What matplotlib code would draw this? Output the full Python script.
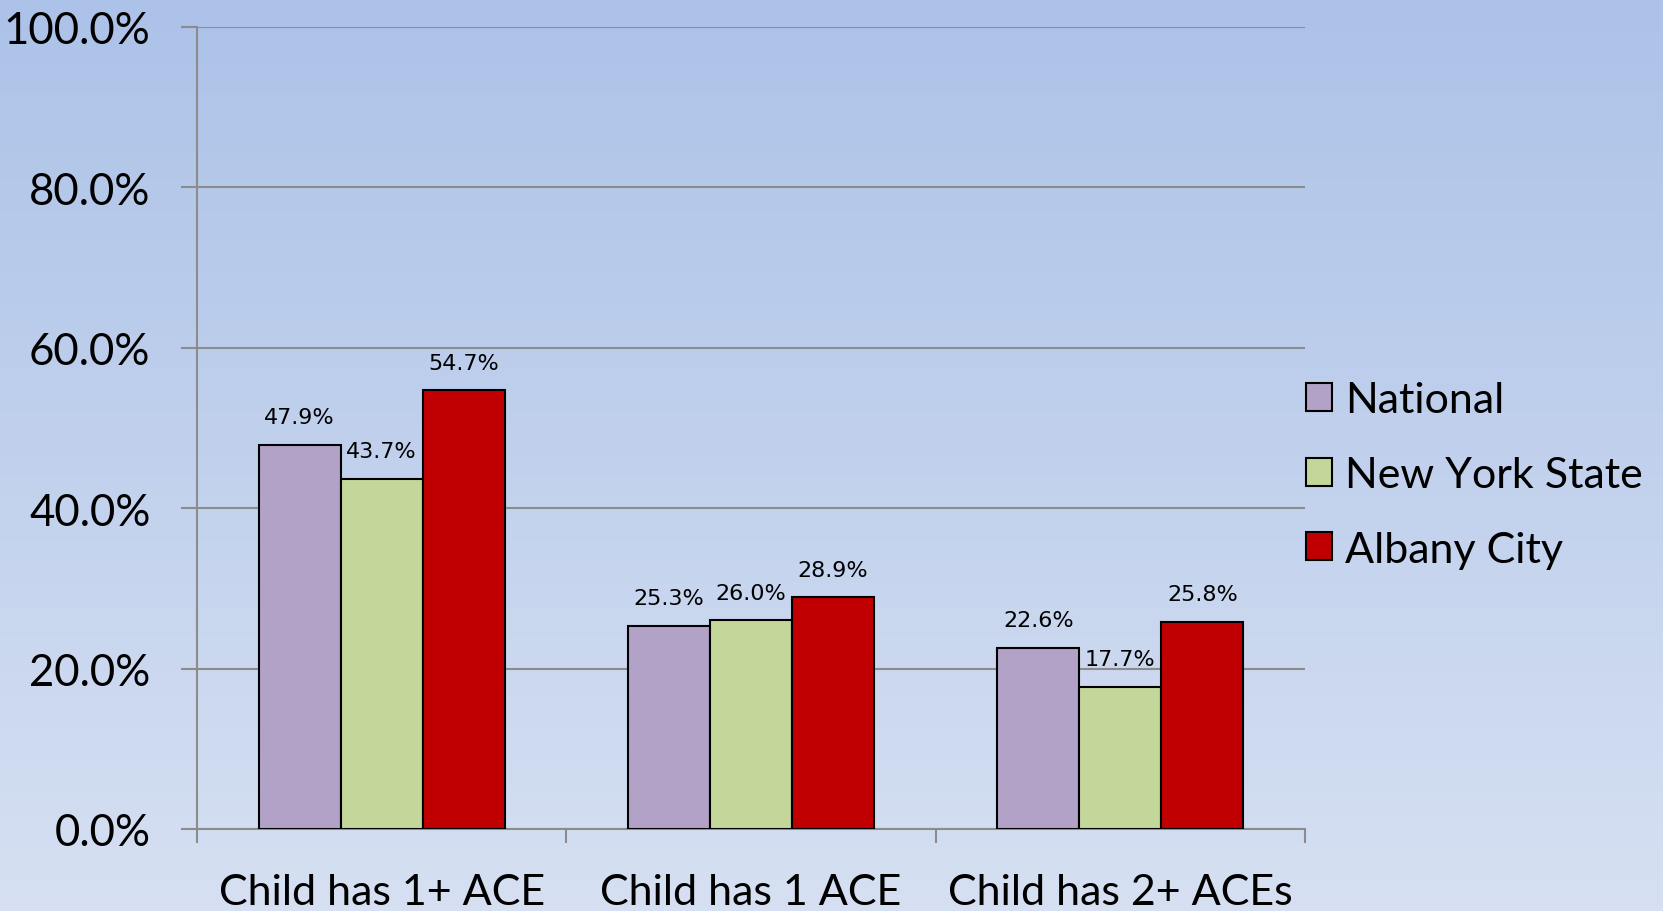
import numpy as np
import matplotlib
matplotlib.use("Agg")
import matplotlib.pyplot as plt
from matplotlib.patches import Patch

categories = ["Child has 1+ ACE", "Child has 1 ACE", "Child has 2+ ACEs"]
series_names = ["National", "New York State", "Albany City"]
national = [47.9, 25.3, 22.6]
nys = [43.7, 26.0, 17.7]
albany = [54.7, 28.9, 25.8]
colors = ["#B2A2C7", "#C4D79B", "#C00000"]
yticks = [0, 20, 40, 60, 80, 100]

W, H, DPI = 1663, 912, 100
fig = plt.figure(figsize=(W / DPI, H / DPI), dpi=DPI)

# background gradient
bg = fig.add_axes([0, 0, 1, 1], zorder=-10)
top = np.array([172, 194, 232]) / 255
bot = np.array([214, 224, 242]) / 255
t = np.linspace(0, 1, 256)[:, None]
grad = top[None, :] * (1 - t) + bot[None, :] * t
bg.imshow(grad[:, None, :].repeat(2, axis=1), aspect="auto", extent=[0, 1, 0, 1])
bg.set_axis_off()

x0, x1 = 197 / W, 1305 / W
y_top, y_bot = 28, 830
ax = fig.add_axes([x0, 1 - y_bot / H, x1 - x0, (y_bot - y_top) / H])
ax.patch.set_alpha(0)

font = "Lato"
x = np.arange(len(categories))
bw = 0.222
for i, (vals, name, c) in enumerate(zip([national, nys, albany], series_names, colors)):
    pos = x + (i - 1) * bw
    ax.bar(pos, vals, width=bw, color=c, edgecolor="black", linewidth=1.5, zorder=3, label=name)
    for p, v in zip(pos, vals):
        ax.text(p, v + 2.2, f"{v:.1f}%", ha="center", va="bottom", fontsize=16,
                family="DejaVu Sans", zorder=4)

ax.set_xlim(-0.5, 2.5)
ax.set_ylim(0, 100)
ax.set_yticks(yticks)
ax.set_yticklabels([f"{v:.1f}%" for v in yticks], fontsize=31.5, family=font)
ax.yaxis.grid(True, color="#8C8C8C", linewidth=1.5, zorder=0)
ax.set_axisbelow(True)
ax.tick_params(axis="y", length=11.5, width=1.5, color="#8C8C8C", pad=22)
ax.set_xticks([-0.5, 0.5, 1.5, 2.5], minor=False)
ax.set_xticklabels([])
ax.tick_params(axis="x", which="major", length=10, width=1.5, color="#8C8C8C")
ax.set_xticks(x, minor=True)
ax.set_xticklabels(categories, minor=True, fontsize=31, family=font)
ax.tick_params(axis="x", which="minor", length=0, pad=32)
for s in ["top", "right"]:
    ax.spines[s].set_visible(False)
for s in ["left", "bottom"]:
    ax.spines[s].set_color("#8C8C8C")
    ax.spines[s].set_linewidth(1.5)

handles = [Patch(facecolor=c, edgecolor="black", linewidth=1.5) for c in colors]
leg = fig.legend(handles, series_names, loc="center left", bbox_to_anchor=(1267 / W, 1 - 476 / H),
                 frameon=False, prop={"family": font, "size": 31}, handlelength=0.62,
                 handleheight=0.62, handletextpad=0.3, labelspacing=0.85)

fig.savefig("out.png", dpi=DPI)
